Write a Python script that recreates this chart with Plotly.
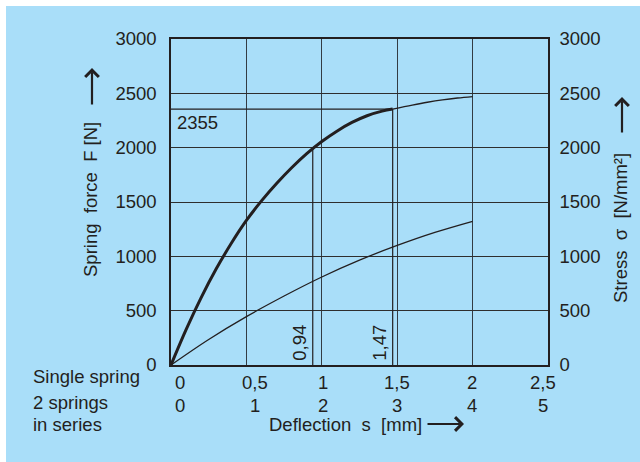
import plotly.graph_objects as go

# Single spring: spring force F [N] over deflection s [mm]
force_s = [0.0, 0.1, 0.2, 0.3, 0.4, 0.5, 0.6, 0.7, 0.8, 0.9, 1.0, 1.1, 1.2, 1.3, 1.4, 1.47]
force_F = [0, 325, 620, 885, 1120, 1330, 1510, 1670, 1815, 1945, 2057, 2152, 2232, 2294, 2336, 2355]

# force curve continued beyond the working point
force_ext_s = [1.47, 1.6, 1.7, 1.8, 1.9, 2.0]
force_ext_F = [2355, 2392, 2418, 2440, 2457, 2470]

# stress sigma [N/mm²] over deflection s [mm]
stress_s = [0.0, 0.25, 0.5, 0.75, 1.0, 1.25, 1.5, 1.75, 2.0]
stress_v = [0, 235, 445, 635, 810, 965, 1100, 1220, 1322]

# marked working points
mark_s = [0.94, 1.47]
mark_F = [2000, 2355]
mark_labels = ["0,94", "1,47"]
force_label = "2355"

# axis ticks
x_ticks = [0, 0.5, 1, 1.5, 2, 2.5]
x_labels_single = ["0", "0,5", "1", "1,5", "2", "2,5"]
x_labels_series = ["0", "1", "2", "3", "4", "5"]
y_ticks = [0, 500, 1000, 1500, 2000, 2500, 3000]

# ---- layout geometry / styling ----
W, H = 640, 462
L, R, T, B = 171, 92, 39, 97
PW, PH = W - L - R, H - T - B
BG = "#A9DEF9"
INK = "#231f20"
GRID = "#2e2e2e"
FONT = "Liberation Sans, Arial, sans-serif"
FS = 18.5


def px(x):
    return (x - L) / PW


def py(y):
    return (H - B - y) / PH


fig = go.Figure()

# force curve (thick up to the working point, thin beyond)
fig.add_trace(go.Scatter(x=force_s, y=force_F, mode="lines", line_shape="spline",
                         line=dict(color=INK, width=3), hoverinfo="skip"))
fig.add_trace(go.Scatter(x=force_ext_s, y=force_ext_F, mode="lines", line_shape="spline",
                         line=dict(color=INK, width=1.3), hoverinfo="skip"))
# stress curve on the right axis
fig.add_trace(go.Scatter(x=stress_s, y=stress_v, mode="lines", line_shape="spline",
                         line=dict(color=INK, width=1.3), yaxis="y2", hoverinfo="skip"))

# drop lines from the marked points
for s, f in zip(mark_s, mark_F):
    fig.add_trace(go.Scatter(x=[s, s], y=[0, f], mode="lines",
                             line=dict(color=INK, width=1.2), hoverinfo="skip"))
fig.add_trace(go.Scatter(x=[0, mark_s[1]], y=[mark_F[1], mark_F[1]], mode="lines",
                         line=dict(color=INK, width=1.2), hoverinfo="skip"))

annotations = []
txt = dict(family=FONT, size=FS, color=INK)

# value labels of the marked points
for s, lab in zip(mark_s, mark_labels):
    annotations.append(dict(x=s, y=0, xref="x", yref="y", text=lab, showarrow=False,
                            textangle=-90, xanchor="center", yanchor="middle",
                            xshift=-14, yshift=22, font=txt))
annotations.append(dict(x=0, y=mark_F[1], xref="x", yref="y", text=force_label,
                        showarrow=False, xanchor="left", yanchor="middle",
                        xshift=4, yshift=-13, font=txt))

# two rows of deflection tick labels
nudge = [9, 9, 1, 0, -1, -5]
for xv, a, b, dx in zip(x_ticks, x_labels_single, x_labels_series, nudge):
    annotations.append(dict(x=xv, y=0, xref="x", yref="paper", text=a, showarrow=False,
                            xanchor="center", yanchor="middle", xshift=dx, yshift=-17,
                            font=txt))
    annotations.append(dict(x=xv, y=0, xref="x", yref="paper", text=b, showarrow=False,
                            xanchor="center", yanchor="middle", xshift=dx, yshift=-40,
                            font=txt))

# row captions
for text, yy in [("Single spring", 376), ("2 springs", 402), ("in series", 424)]:
    annotations.append(dict(x=px(31), y=py(yy), xref="paper", yref="paper", text=text,
                            showarrow=False, xanchor="left", yanchor="middle", font=txt))

# axis titles
annotations.append(dict(x=px(345), y=py(424), xref="paper", yref="paper",
                        text="Deflection  s  [mm]", showarrow=False,
                        xanchor="center", yanchor="middle", font=txt))
annotations.append(dict(x=px(90), y=py(200), xref="paper", yref="paper",
                        text="Spring  force  F [N]", showarrow=False, textangle=-90,
                        xanchor="center", yanchor="middle", font=txt))
annotations.append(dict(x=px(620), y=py(228), xref="paper", yref="paper",
                        text="Stress  σ  [N/mm²]", showarrow=False, textangle=-90,
                        xanchor="center", yanchor="middle", font=txt))

# direction arrows
arrow = dict(xref="paper", yref="paper", text="", showarrow=True, arrowhead=4,
             arrowsize=1.2, arrowwidth=2.2, arrowcolor=INK)
annotations.append(dict(arrow, x=px(92), y=py(68), ax=0, ay=38))
annotations.append(dict(arrow, x=px(622), y=py(97), ax=0, ay=37))
annotations.append(dict(arrow, x=px(464), y=py(424), ax=-38, ay=0))

axis_common = dict(showline=True, linecolor=INK, linewidth=1.5, zeroline=False,
                   tickfont=txt, ticks="outside", tickcolor="rgba(0,0,0,0)")

fig.update_layout(
    width=W, height=H,
    margin=dict(l=L, r=R, t=T, b=B, pad=0),
    paper_bgcolor="white",
    plot_bgcolor="rgba(0,0,0,0)",
    showlegend=False,
    font=txt,
    xaxis=dict(range=[0, 2.5], tickvals=x_ticks, showticklabels=False, mirror=True,
               showgrid=True, gridcolor="#333c44", gridwidth=1.4,
               showline=True, linecolor=INK, linewidth=1.5, zeroline=False, ticks=""),
    yaxis=dict(axis_common, range=[0, 3000], tickvals=y_ticks, ticklen=9,
               showgrid=True, gridcolor=GRID, gridwidth=1.4, mirror=True),
    yaxis2=dict(axis_common, range=[0, 3000], tickvals=y_ticks, ticklen=6,
                overlaying="y", side="right", showgrid=False),
    annotations=annotations,
    shapes=[dict(type="rect", xref="paper", yref="paper", layer="below",
                 x0=px(6), x1=px(W + 2), y0=py(H + 2), y1=py(6),
                 fillcolor=BG, line=dict(width=0))],
)

fig.write_html("out.html")
